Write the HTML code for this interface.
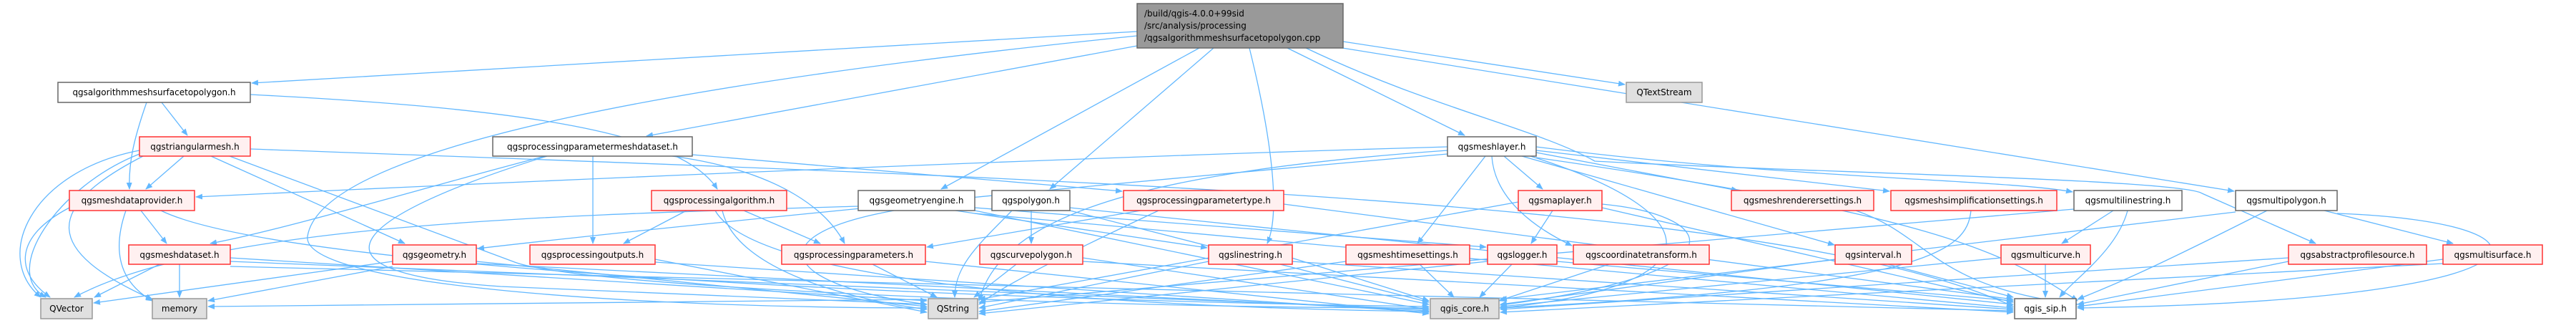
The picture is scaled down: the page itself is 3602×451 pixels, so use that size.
<!DOCTYPE html>
<html><head><meta charset="utf-8"><style>
html,body{margin:0;padding:0;background:#fff;}
svg{display:block;}
text{font-family:"DejaVu Sans","Liberation Sans",sans-serif;font-size:12px;fill:#000;}
.e{fill:none;stroke:#63b8ff;stroke-width:1.3;}
.r{fill:#fff0f0;stroke:#ff3333;stroke-width:1.5;}
.g{fill:#e0e0e0;stroke:#999;stroke-width:1.5;}
.w{fill:#fff;stroke:#666;stroke-width:1.5;}
</style></head><body>
<svg width="3602" height="451" viewBox="0 0 3602 451" xmlns="http://www.w3.org/2000/svg">
<defs><marker id="a" markerWidth="10" markerHeight="8" refX="9" refY="4" orient="auto" markerUnits="userSpaceOnUse"><path d="M0,0 L10,4 L0,8 z" fill="#63b8ff"/></marker></defs>
<g class="e" marker-end="url(#a)">
<!-- top -->
<path d="M1590,44 L352,116"/>
<path d="M1590,64 L904,190"/>
<path d="M1590,50 C1000,110 450,200 430,330 C420,400 900,430 1296,430"/>
<path d="M1677,67 L1316,264"/>
<path d="M1697,67 L1468,264"/>
<path d="M1747,67 C1780,200 1790,300 1772,340"/>
<path d="M1800,67 L2048,189"/>
<path d="M1878,58 L2272,118"/>
<path d="M1877,67 L3124,267"/>
<path d="M1826,67 C2000,150 2150,180 2230,225 C2500,240 3050,250 3079,270 L3238,340"/>
<!-- A -->
<path d="M226,143 L262,189"/>
<path d="M205,143 C185,200 180,230 181,264"/>
<path d="M350,132 C700,150 950,180 1003,264"/>
<!-- TRI -->
<path d="M257,218 L204,264"/>
<path d="M195,210 C40,240 -10,360 57,415"/>
<path d="M195,215 C80,260 0,380 64,415"/>
<path d="M200,218 C60,290 60,350 213,418"/>
<path d="M295,218 L566,340"/>
<path d="M321,218 L717,365 C800,400 1500,430 1998,430"/>
<path d="M350,208 C1500,250 2500,280 2815,428"/>
<!-- PPMD -->
<path d="M968,216 L1569,267"/>
<path d="M829,218 L829,340"/>
<path d="M762,218 C600,260 400,320 294,340"/>
<path d="M765,218 C500,300 400,380 700,400 L1296,425"/>
<path d="M940,218 C1100,240 1160,300 1181,340"/>
<!-- MESHLAYER -->
<path d="M2024,205 C1500,220 800,250 274,275"/>
<path d="M2103,218 L2157,264"/>
<path d="M2077,218 L1982,340"/>
<path d="M2086,218 C2090,280 2150,320 2198,343"/>
<path d="M2148,213 L2430,266"/>
<path d="M2148,210 L2642,267"/>
<path d="M2148,205 C2500,250 2800,250 2898,268"/>
<path d="M2128,218 L2565,342"/>
<path d="M2024,215 C1500,260 900,320 668,347"/>
<path d="M2140,218 C2400,300 2400,400 2098,430"/>
<path d="M2148,220 C2700,300 2800,350 2905,420"/>
<path d="M2024,210 C1600,240 1400,300 1369,420"/>
<!-- PALG -->
<path d="M960,294 L872,340"/>
<path d="M1040,294 L1147,340"/>
<path d="M1010,294 C1030,380 1200,420 1296,432"/>
<path d="M1000,294 C1060,400 1600,430 1998,435"/>
<!-- GENG -->
<path d="M1200,288 C800,300 300,310 104,415"/>
<path d="M1336,294 L1688,346"/>
<path d="M1250,294 C1050,330 1100,400 1296,425"/>
<path d="M1363,294 L1998,425"/>
<path d="M1363,298 L2815,430"/>
<path d="M1363,290 L2078,345"/>
<!-- POLY -->
<path d="M1442,294 L1442,340"/>
<path d="M1415,294 C1370,340 1335,370 1335,415"/>
<path d="M1496,290 L2815,425"/>
<path d="M1496,294 L1998,422"/>
<!-- PPT -->
<path d="M1595,294 L1296,345"/>
<path d="M1795,285 L2815,418"/>
<path d="M1620,294 C1500,350 1400,400 1369,425"/>
<!-- row4 -->
<path d="M1220,369 L1310,415"/>
<path d="M1421,369 L1362,415"/>
<path d="M1514,360 L1998,432"/>
<path d="M1514,365 L2815,436"/>
<path d="M1690,365 L1369,430"/>
<path d="M1806,360 L1998,420"/>
<path d="M1806,365 L2815,432"/>
<path d="M1294,365 L1998,438"/>
<path d="M1985,369 L2033,415"/>
<path d="M1882,365 L1369,435"/>
<path d="M2114,369 L2069,415"/>
<path d="M2080,365 L1369,438"/>
<path d="M2177,365 L2815,420"/>
<path d="M2250,369 L2096,420"/>
<path d="M2566,362 L2098,425"/>
<path d="M2640,369 L2815,415"/>
<path d="M2860,369 L2860,415"/>
<path d="M2798,360 L2098,428"/>
<path d="M3200,365 L2905,425"/>
<path d="M3200,360 L2098,432"/>
<path d="M3416,362 L2905,428"/>
<path d="M3416,368 L2098,436"/>
<!-- row3 others -->
<path d="M2171,294 L2141,340"/>
<path d="M2123,282 L1369,418"/>
<path d="M2240,285 C2400,300 2450,380 2098,426"/>
<path d="M2240,290 L2815,422"/>
<path d="M2756,294 C2750,350 2700,400 2097,430"/>
<path d="M2595,294 C2700,330 2700,400 2905,425"/>
<path d="M2955,294 L2883,340"/>
<path d="M2975,294 C2960,350 2900,390 2880,415"/>
<path d="M2900,292 L1369,422"/>
<path d="M3250,294 L3430,340"/>
<path d="M3268,298 C3600,310 3600,420 2905,430"/>
<path d="M3126,296 L2098,418"/>
<path d="M3170,294 C3000,380 2950,400 2905,418"/>
<!-- left side -->
<path d="M97,290 C20,330 20,380 70,415"/>
<path d="M176,294 C160,340 160,390 213,420"/>
<path d="M197,294 L233,340"/>
<path d="M225,294 C400,380 1400,420 1998,428"/>
<path d="M223,369 L132,415"/>
<path d="M251,369 L251,415"/>
<path d="M322,360 L1296,420"/>
<path d="M322,365 L1998,432"/>
<path d="M322,372 L2815,434"/>
<path d="M549,365 L131,423"/>
<path d="M549,372 L291,420"/>
<path d="M666,365 L1296,428"/>
<path d="M666,368 L1998,434"/>
<path d="M916,362 L1296,436"/>
<path d="M916,366 L1998,436"/>
<path d="M1296,418 L291,428"/>
</g>
<!-- nodes -->
<rect class="g" x="1590" y="5" width="288" height="62" style="fill:#999;stroke:#666"/>
<text x="1600" y="23">/build/qgis-4.0.0+99sid</text>
<text x="1600" y="40">/src/analysis/processing</text>
<text x="1600" y="57">/qgsalgorithmmeshsurfacetopolygon.cpp</text>
<g text-anchor="middle">
<rect class="w" x="81" y="115" width="269" height="28"/><text x="215.5" y="133">qgsalgorithmmeshsurfacetopolygon.h</text>
<rect class="g" x="2274" y="115" width="106" height="28"/><text x="2327" y="133">QTextStream</text>
<rect class="r" x="195" y="191" width="155" height="27"/><text x="272.5" y="209">qgstriangularmesh.h</text>
<rect class="w" x="689" y="191" width="279" height="27"/><text x="828.5" y="209">qgsprocessingparametermeshdataset.h</text>
<rect class="w" x="2024" y="191" width="124" height="27"/><text x="2086" y="209">qgsmeshlayer.h</text>
<rect class="r" x="97" y="266" width="175" height="28"/><text x="184.5" y="284">qgsmeshdataprovider.h</text>
<rect class="r" x="911" y="266" width="189" height="28"/><text x="1005.5" y="284">qgsprocessingalgorithm.h</text>
<rect class="w" x="1200" y="266" width="163" height="28"/><text x="1281.5" y="284">qgsgeometryengine.h</text>
<rect class="w" x="1387" y="266" width="109" height="28"/><text x="1441.5" y="284">qgspolygon.h</text>
<rect class="r" x="1571" y="266" width="224" height="28"/><text x="1683" y="284">qgsprocessingparametertype.h</text>
<rect class="r" x="2123" y="266" width="117" height="28"/><text x="2181.5" y="284">qgsmaplayer.h</text>
<rect class="r" x="2421" y="266" width="199" height="28"/><text x="2520.5" y="284">qgsmeshrenderersettings.h</text>
<rect class="r" x="2644" y="266" width="232" height="28"/><text x="2760" y="284">qgsmeshsimplificationsettings.h</text>
<rect class="w" x="2900" y="266" width="151" height="28"/><text x="2975.5" y="284">qgsmultilinestring.h</text>
<rect class="w" x="3126" y="266" width="142" height="28"/><text x="3197" y="284">qgsmultipolygon.h</text>
<rect class="r" x="180" y="342" width="142" height="27"/><text x="251" y="360">qgsmeshdataset.h</text>
<rect class="r" x="549" y="342" width="117" height="27"/><text x="607.5" y="360">qgsgeometry.h</text>
<rect class="r" x="741" y="342" width="175" height="27"/><text x="828.5" y="360">qgsprocessingoutputs.h</text>
<rect class="r" x="1093" y="342" width="201" height="27"/><text x="1193.5" y="360">qgsprocessingparameters.h</text>
<rect class="r" x="1370" y="342" width="144" height="27"/><text x="1442" y="360">qgscurvepolygon.h</text>
<rect class="r" x="1690" y="342" width="117" height="27"/><text x="1748.5" y="360">qgslinestring.h</text>
<rect class="r" x="1882" y="342" width="173" height="27"/><text x="1968.5" y="360">qgsmeshtimesettings.h</text>
<rect class="r" x="2080" y="342" width="97" height="27"/><text x="2128.5" y="360">qgslogger.h</text>
<rect class="r" x="2200" y="342" width="190" height="27"/><text x="2295" y="360">qgscoordinatetransform.h</text>
<rect class="r" x="2566" y="342" width="107" height="27"/><text x="2619.5" y="360">qgsinterval.h</text>
<rect class="r" x="2798" y="342" width="125" height="27"/><text x="2860.5" y="360">qgsmulticurve.h</text>
<rect class="r" x="3200" y="342" width="193" height="27"/><text x="3296.5" y="360">qgsabstractprofilesource.h</text>
<rect class="r" x="3416" y="342" width="139" height="27"/><text x="3485.5" y="360">qgsmultisurface.h</text>
<rect class="g" x="57" y="417" width="72" height="28"/><text x="93" y="435">QVector</text>
<rect class="g" x="213" y="417" width="76" height="28"/><text x="251" y="435">memory</text>
<rect class="g" x="1298" y="417" width="69" height="28"/><text x="1332.5" y="435">QString</text>
<rect class="g" x="2000" y="417" width="96" height="28"/><text x="2048" y="435">qgis_core.h</text>
<rect class="w" x="2817" y="417" width="86" height="28"/><text x="2860" y="435">qgis_sip.h</text>
</g>
</svg>
</body></html>
